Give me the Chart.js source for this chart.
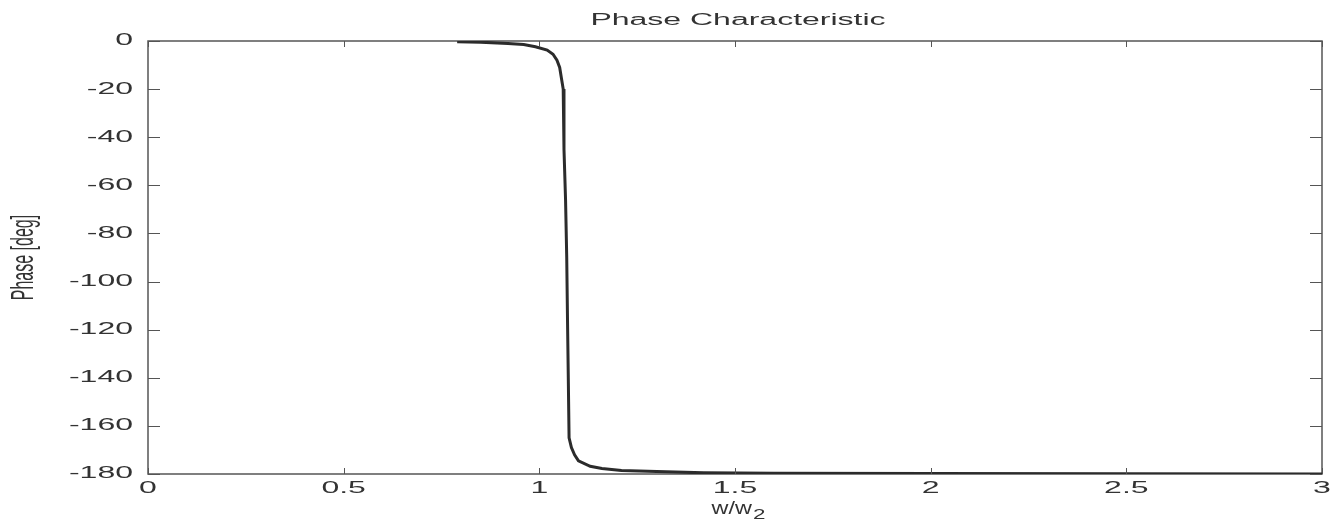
<!DOCTYPE html>
<html>
<head>
<meta charset="utf-8">
<title>Phase Characteristic</title>
<script src="https://cdn.jsdelivr.net/npm/chart.js@4/dist/chart.umd.min.js"></script>
<style>
  html, body { margin: 0; padding: 0; background: #fff; }
  canvas { display: block; }
</style>
</head>
<body>
<canvas id="phaseChart" width="1342" height="525"></canvas>
<script>
// values
const wRatio = [0.79, 0.85, 0.92, 0.96, 0.99, 1.02, 1.035, 1.045, 1.052, 1.057,
  1.061, 1.063, 1.067, 1.07, 1.072, 1.074, 1.076, 1.082, 1.09, 1.1,
  1.13, 1.16, 1.21, 1.3, 1.42, 1.6, 2, 2.5, 3];
const phaseDeg = [-0.3, -0.5, -1, -1.5, -2.4, -3.8, -5.5, -8, -11, -16,
  -20, -45, -66, -90, -116, -140, -165, -169, -172, -174.5,
  -176.8, -177.7, -178.5, -179, -179.5, -179.7, -179.8, -179.9, -180];
const xTicks = [0, 0.5, 1, 1.5, 2, 2.5, 3];
const yTicks = [0, -20, -40, -60, -80, -100, -120, -140, -160, -180];
const xTickLabels = ["0", "0.5", "1", "1.5", "2", "2.5", "3"];
const yTickLabels = ["0", "-20", "-40", "-60", "-80", "-100", "-120", "-140", "-160", "-180"];

const FONT = '"Liberation Sans", Arial, sans-serif';
const TEXT_COLOR = "#333";
const STRETCH = 2.0; // the picture is stretched sideways

// draw text squeezed/stretched horizontally
function wideText(ctx, text, x, y, size, align, baseline, sx) {
  ctx.save();
  ctx.translate(x, y);
  ctx.scale(sx, 1);
  ctx.font = size + "px " + FONT;
  ctx.textAlign = align;
  ctx.textBaseline = baseline;
  ctx.fillStyle = TEXT_COLOR;
  ctx.fillText(text, 0, 0);
  ctx.restore();
}

// MATLAB-like box, inward ticks and labels
const matlabAxes = {
  id: "matlabAxes",
  beforeDatasetsDraw(chart) {
    const { ctx, chartArea: a } = chart;
    ctx.save();
    ctx.strokeStyle = "#555";
    ctx.lineWidth = 1.5;
    ctx.strokeRect(a.left, a.top, a.right - a.left, a.bottom - a.top);
    ctx.restore();
  },
  afterDraw(chart) {
    const { ctx, chartArea: a, scales } = chart;
    const xs = scales.x, ys = scales.y;
    ctx.save();
    ctx.strokeStyle = "#555";
    ctx.lineWidth = 1;
    ctx.beginPath();
    xTicks.forEach(v => {
      const px = Math.round(xs.getPixelForValue(v)) + 0.5;
      ctx.moveTo(px, a.bottom); ctx.lineTo(px, a.bottom - 6);
      ctx.moveTo(px, a.top); ctx.lineTo(px, a.top + 6);
    });
    yTicks.forEach(v => {
      const py = Math.round(ys.getPixelForValue(v)) + 0.5;
      ctx.moveTo(a.left, py); ctx.lineTo(a.left + 12, py);
      ctx.moveTo(a.right, py); ctx.lineTo(a.right - 12, py);
    });
    ctx.stroke();
    ctx.restore();

    xTicks.forEach((v, i) => {
      wideText(ctx, xTickLabels[i], xs.getPixelForValue(v), a.bottom + 15, 16, "center", "middle", STRETCH);
    });
    yTicks.forEach((v, i) => {
      wideText(ctx, yTickLabels[i], a.left - 15, ys.getPixelForValue(v), 16, "right", "middle", STRETCH);
    });

    const cx = (a.left + a.right) / 2;
    wideText(ctx, "Phase Characteristic", cx + 3, 21, 16, "center", "middle", STRETCH);

    // y axis title, rotated
    ctx.save();
    ctx.translate(24, (a.top + a.bottom) / 2);
    ctx.scale(STRETCH, 1);
    ctx.rotate(-Math.PI / 2);
    ctx.font = "16px " + FONT;
    ctx.textAlign = "center";
    ctx.textBaseline = "middle";
    ctx.fillStyle = TEXT_COLOR;
    ctx.fillText("Phase [deg]", 0, 0);
    ctx.restore();

    // x axis title with subscript
    ctx.save();
    ctx.font = "18px " + FONT;
    const mainW = ctx.measureText("w/w").width * 1.3;
    ctx.font = "14px " + FONT;
    const subW = ctx.measureText("2").width * 1.6;
    ctx.restore();
    const start = cx + 3 - (mainW + subW) / 2;
    wideText(ctx, "w/w", start, 514, 18, "left", "alphabetic", 1.3);
    wideText(ctx, "2", start + mainW + 1, 519, 14, "left", "alphabetic", 1.6);
  }
};

const points = wRatio.map((w, i) => ({ x: w, y: phaseDeg[i] }));

new Chart(document.getElementById("phaseChart").getContext("2d"), {
  type: "line",
  data: {
    datasets: [{
      label: "Phase",
      data: points,
      borderColor: "#2b2b2b",
      borderWidth: 3,
      pointRadius: 0,
      tension: 0,
      fill: false
    }]
  },
  options: {
    responsive: false,
    animation: false,
    devicePixelRatio: 1,
    layout: { padding: { top: 41, right: 20, left: 0, bottom: 0 } },
    plugins: {
      legend: { display: false },
      tooltip: { enabled: false },
      title: { display: false }
    },
    scales: {
      x: {
        type: "linear",
        min: 0,
        max: 3,
        grid: { display: false },
        border: { display: false },
        ticks: { display: false },
        afterBuildTicks: s => { s.ticks = xTicks.map(v => ({ value: v })); },
        afterFit: s => { s.height = 51; }
      },
      y: {
        type: "linear",
        min: -180,
        max: 0,
        grid: { display: false },
        border: { display: false },
        ticks: { display: false },
        afterBuildTicks: s => { s.ticks = yTicks.map(v => ({ value: v })); },
        afterFit: s => { s.width = 148; }
      }
    }
  },
  plugins: [matlabAxes]
});
</script>
</body>
</html>
